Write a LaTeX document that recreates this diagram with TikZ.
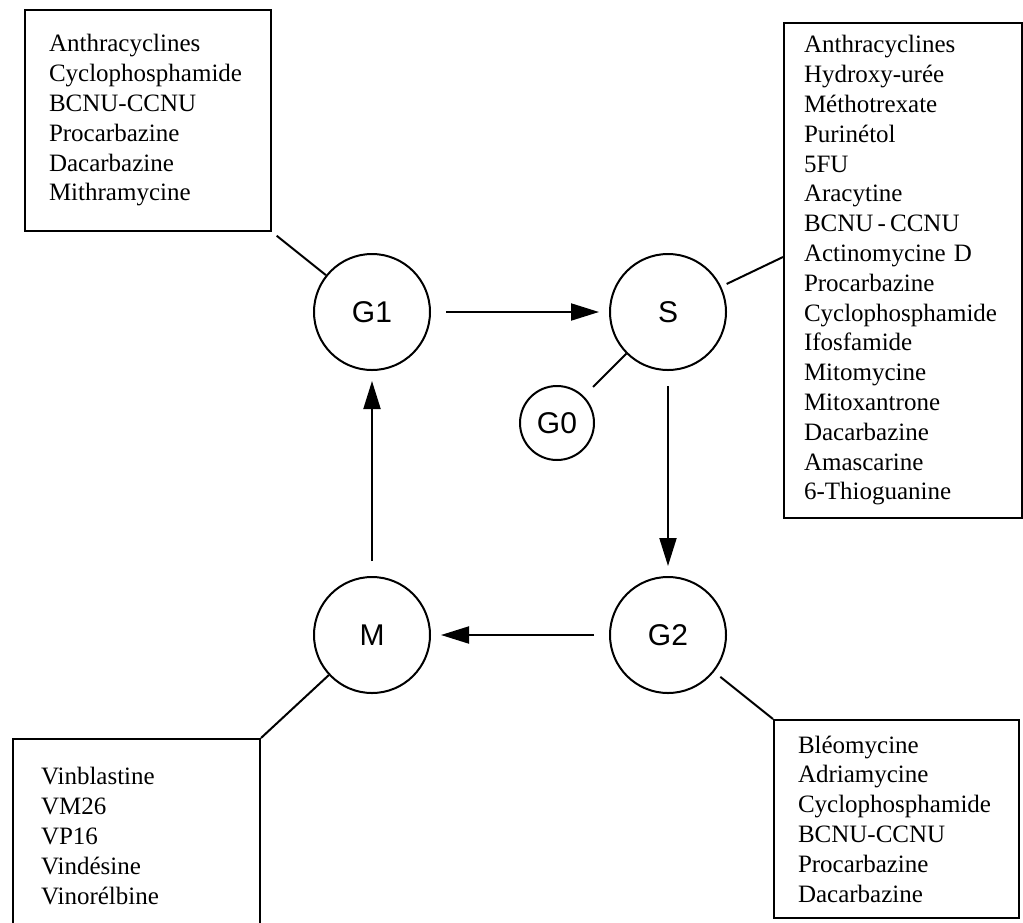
\documentclass[tikz,border=0pt]{standalone}
\usepackage{fontspec}
\setmainfont{Liberation Serif}
\setsansfont{Liberation Sans}
\usetikzlibrary{arrows.meta}
\usetikzlibrary{positioning}

\begin{document}
\begin{tikzpicture}[x=1pt,y=-1pt,>={Triangle[length=28pt,width=17pt]},
                    line width=2pt,node distance=296pt,
                    phase/.style={circle,draw,minimum size=116pt,inner sep=0pt,
                                  font=\sffamily\fontsize{30}{36}\selectfont},
                    drugs/.style={draw,anchor=north west,align=left,inner ysep=0pt,
                                  font=\fontsize{25}{29.8}\selectfont}]

  \useasboundingbox (0,0) rectangle (1023,922);

  % phases of the cycle
  \node[phase] (g1) at (372,312) {G1};
  \node[phase] (s) [right of=g1] {S};
  \node[phase] (g2) [below of=s,node distance=323pt] {G2};
  \node[phase] (m) [left of=g2] {M};
  \node[phase,minimum size=74pt] (g0) at (557,423) {G0};

  % drug lists
  \node[drugs,text width=198pt,inner xsep=24pt,minimum height=221pt] (tlbox) at (24,9)
    {Anthracyclines\\Cyclophosphamide\\BCNU-CCNU\\Procarbazine\\Dacarbazine\\Mithramycine};
  \node[drugs,text width=198pt,inner xsep=20pt,minimum height=495pt] (trbox) at (783,22)
    {Anthracyclines\\Hydroxy-urée\\Méthotrexate\\Purinétol\\5FU\\Aracytine\\BCNU\,-\,CCNU\\
     Actinomycine D\\Procarbazine\\Cyclophosphamide\\Ifosfamide\\Mitomycine\\Mitoxantrone\\
     Dacarbazine\\Amascarine\\6-Thioguanine};
  \node[drugs,text width=191pt,inner xsep=28pt,minimum height=194pt] (blbox) at (12,738)
    {Vinblastine\\VM26\\VP16\\Vindésine\\Vinorélbine};
  \node[drugs,text width=197pt,inner xsep=24pt,minimum height=198pt] (brbox) at (773,719)
    {Bléomycine\\Adriamycine\\Cyclophosphamide\\BCNU-CCNU\\Procarbazine\\Dacarbazine};
  \coordinate (trpin) at (783,257);

  \path[->,shorten <=15pt,shorten >=10pt]
    (g1) edge (s)
    (s)  edge (g2)
    (g2) edge (m)
    (m)  edge (g1)
;
  \draw[shorten <=6pt] (tlbox.south east) -- (g1);
  \draw[shorten <=6pt] (s) -- (trpin);
  \draw[shorten >=13pt] (s) -- (g0);
  \draw[shorten <=8pt] (g2) -- (brbox.north west);
  \draw (m) -- (blbox.north east);
\end{tikzpicture}
\end{document}
